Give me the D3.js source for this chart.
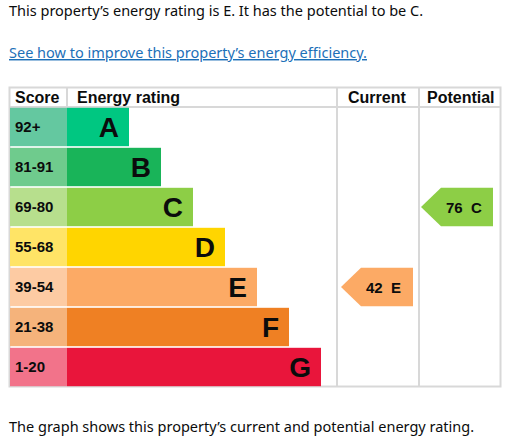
<!DOCTYPE html>
<html><head><meta charset="utf-8">
<script src="https://cdn.jsdelivr.net/npm/d3@7"></script>
<style>body{margin:0;background:#fff;font-family:"Noto Sans",Arial,sans-serif;}</style>
</head><body><svg id="c" width="519" height="441"></svg>
<script>
const bands=["A","B","C","D","E","F","G"];
const scores=["92+","81-91","69-80","55-68","39-54","21-38","1-20"];
const barColors=["#00c781","#19b459","#8dce46","#ffd500","#fcaa65","#ef8023","#e9153b"];
const scoreColors=["#64c8a0","#6fcb8d","#b7df8d","#ffe466","#fdcba3","#f5b37b","#f2738a"];
const barEnd=[129,161,193,225,257,289,321];
const current={value:42,band:"E"};
const potential={value:76,band:"C"};

const svg=d3.select("#c");
const y=d3.scaleBand().domain(bands).range([107,387]).paddingInner(0.04).paddingOuter(0.02);
const x=d3.scaleLinear().domain([0,519]).range([0,519]);
svg.append("text").attr("x",9).attr("y",16).attr("font-size",14.5).attr("fill","#0b0c0c").text("This property’s energy rating is E. It has the potential to be C.");
svg.append("text").attr("x",9).attr("y",58).attr("font-size",14.5).attr("fill","#1d70b8").attr("text-decoration","underline").text("See how to improve this property’s energy efficiency.");
svg.append("text").attr("x",9).attr("y",432).attr("font-size",14.5).attr("fill","#0b0c0c").text("The graph shows this property’s current and potential energy rating.");

const g="#d8d8d8";
svg.append("rect").attr("x",9.5).attr("y",87.5).attr("width",491).attr("height",299).attr("fill","none").attr("stroke",g).attr("stroke-width",2);
[[67,87,107],[337,87,387],[419,87,387]].forEach(d=>svg.append("line").attr("x1",d[0]).attr("x2",d[0]).attr("y1",d[1]).attr("y2",d[2]).attr("stroke",g).attr("stroke-width",2));
svg.append("line").attr("x1",9).attr("x2",501).attr("y1",107).attr("y2",107).attr("stroke",g).attr("stroke-width",2);
const hf='Arial,"Liberation Sans",sans-serif';
[["Score",15],["Energy rating",77],["Current",348],["Potential",427]].forEach(d=>svg.append("text").attr("x",d[1]).attr("y",103).attr("font-family",hf).attr("font-weight","bold").attr("font-size",16).attr("fill","#0b0c0c").text(d[0]));

bands.forEach((b,i)=>{
  const yy=y(b),h=y.bandwidth();
  svg.append("rect").attr("x",10).attr("y",yy).attr("width",57).attr("height",h).attr("fill",scoreColors[i]);
  svg.append("rect").attr("x",67).attr("y",yy).attr("width",x(barEnd[i])-67).attr("height",h).attr("fill",barColors[i]);
  svg.append("text").attr("x",15).attr("y",yy+h/2+5).attr("font-family",hf).attr("font-weight","bold").attr("font-size",15).attr("fill","#0b0c0c").text(scores[i]);
  svg.append("text").attr("x",x(barEnd[i])-10).attr("y",yy+h/2+10).attr("text-anchor","end").attr("font-family",hf).attr("font-weight","bold").attr("font-size",28).attr("fill","#0b0c0c").text(b);
});
function arrow(r,x0,x1){
  const i=bands.indexOf(r.band),yy=y(r.band),h=y.bandwidth();
  svg.append("path").attr("d",`M${x0},${yy+h/2}L${x0+20},${yy}H${x1}V${yy+h}H${x0+20}Z`).attr("fill",barColors[i]);
  svg.append("text").attr("x",x0+25).attr("y",yy+h/2+6).attr("font-family",hf).attr("font-weight","bold").attr("font-size",15).attr("fill","#0b0c0c").attr("xml:space","preserve").text(r.value+"  "+r.band);
}
arrow(current,341,413);
arrow(potential,421,493);
</script></body></html>
